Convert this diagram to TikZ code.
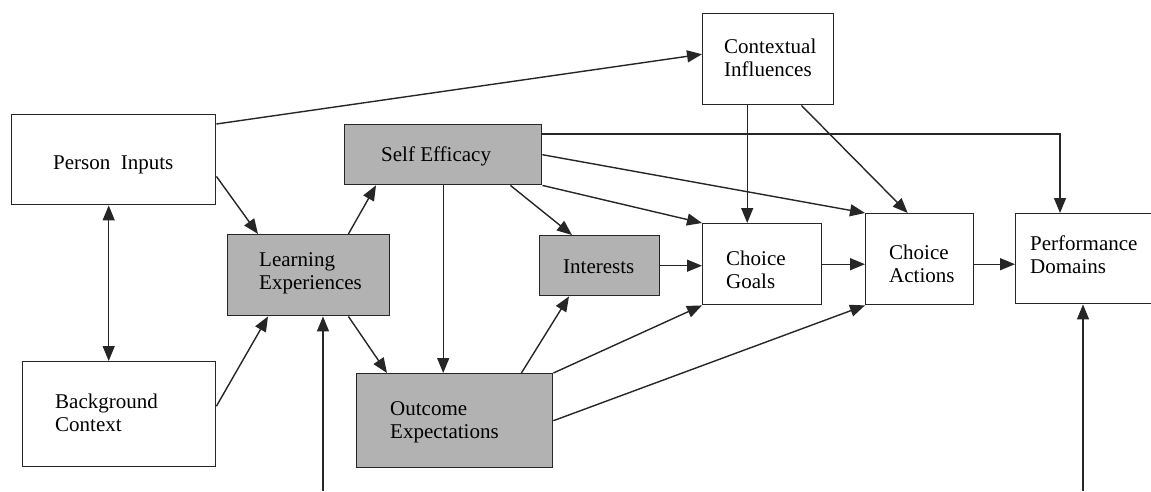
\documentclass[tikz,border=0pt]{standalone}
\usepackage{fontspec}
\setmainfont{Liberation Serif}
\usetikzlibrary{arrows.meta,calc}
\begin{document}
\begin{tikzpicture}[x=1pt,y=-1pt,
  box/.style={draw=black!85,line width=1.4pt,inner sep=0pt,anchor=north west},
  wbox/.style={box,fill=white},
  gbox/.style={box,fill=black!30},
  lbl/.style={inner sep=0pt,anchor=base west,align=left,font=\fontsize{21}{23}\selectfont},
  conn/.style={draw=black!85,line width=1.4pt,-{Triangle[length=15pt,width=12pt]}},
  dconn/.style={draw=black!85,line width=1.4pt,{Triangle[length=15pt,width=12pt]}-{Triangle[length=15pt,width=12pt]}}]
\useasboundingbox (0,0) rectangle (1151,491);
\clip (0,0) rectangle (1151,491);
% boxes
\node[wbox,minimum width=204pt,minimum height=90pt] (PI) at (11,114) {};
\node[wbox,minimum width=193pt,minimum height=105pt] (BC) at (22,361) {};
\node[gbox,minimum width=162pt,minimum height=81pt] (LE) at (227,234) {};
\node[gbox,minimum width=197pt,minimum height=60pt] (SE) at (344,124) {};
\node[gbox,minimum width=196pt,minimum height=94pt] (OE) at (356,373) {};
\node[gbox,minimum width=120pt,minimum height=60pt] (IN) at (539,235) {};
\node[wbox,minimum width=131pt,minimum height=91pt] (CI) at (702,13) {};
\node[wbox,minimum width=119pt,minimum height=81pt] (CG) at (702,223) {};
\node[wbox,minimum width=108pt,minimum height=91pt] (CA) at (865,213) {};
\node[wbox,minimum width=170pt,minimum height=90pt] (PD) at (1015,213) {};
% labels (base = baseline of last line)
\node[lbl] (tPI) at (53,169) {Person\ \ Inputs};
\node[lbl] (tBC) at (55,431) {Background\\Context};
\node[lbl] (tLE) at (259,289) {Learning\\Experiences};
\node[lbl] (tSE) at (381,161) {Self Efficacy};
\node[lbl] (tOE) at (390,438) {Outcome\\Expectations};
\node[lbl] (tIN) at (563,273) {Interests};
\node[lbl] (tCI) at (724,76) {Contextual\\Influences};
\node[lbl] (tCG) at (726,288) {Choice\\Goals};
\node[lbl] (tCA) at (889,282) {Choice\\Actions};
\node[lbl] (tPD) at (1030,273) {Performance\\Domains};
% free ends
\coordinate (b1) at (323,491);
\coordinate (b2) at (1083,491);
% connectors
\draw[conn] ([yshift=-10pt]PI.north east) -- ([yshift=5pt]CI.west);
\draw[conn] ([yshift=29pt]PI.south east) -- ([xshift=31pt]LE.north west);
\draw[dconn] ([xshift=-5pt]PI.south) -- ([xshift=-5pt]PI.south |- BC.north);
\draw[conn] ([yshift=8pt]BC.east) -- ([xshift=41pt]LE.south west);
\draw[conn] ([xshift=-42pt]LE.north east) -- ([xshift=32pt]SE.south west);
\draw[conn] ([xshift=-42pt]LE.south east) -- ([xshift=31pt]OE.north west);
\draw[conn] (b1) -- (b1 |- LE.south);
\draw[conn] (SE.south) -- (SE.south |- OE.north);
\draw[conn] ([xshift=-32pt]SE.south east) -- ([xshift=33pt]IN.north west);
\draw[conn] (SE.south east) -- (CG.north west);
\draw[conn] (SE.east) -- (CA.north west);
\draw[conn] ([yshift=-10pt]SE.north east) -| ([xshift=45pt]PD.north west);
\draw[conn] ([xshift=-21pt]CI.south) -- ([xshift=-21pt]CI.south |- CG.north);
\draw[conn] ([xshift=-33pt]CI.south east) -- ([xshift=-12pt]CA.north);
\draw[conn] (IN.east) -- (IN.east -| CG.west);
\draw[conn] (CG.east) -- (CG.east -| CA.west);
\draw[conn] ([yshift=-5pt]CA.east) -- ([yshift=-5pt]CA.east -| PD.west);
\draw[conn] (b2) -- (b2 |- PD.south);
\draw[conn] ([xshift=-32pt]OE.north east) -- ([xshift=30pt]IN.south west);
\draw[conn] (OE.north east) -- (CG.south west);
\draw[conn] (OE.east) -- (CA.south west);
\end{tikzpicture}
\end{document}
